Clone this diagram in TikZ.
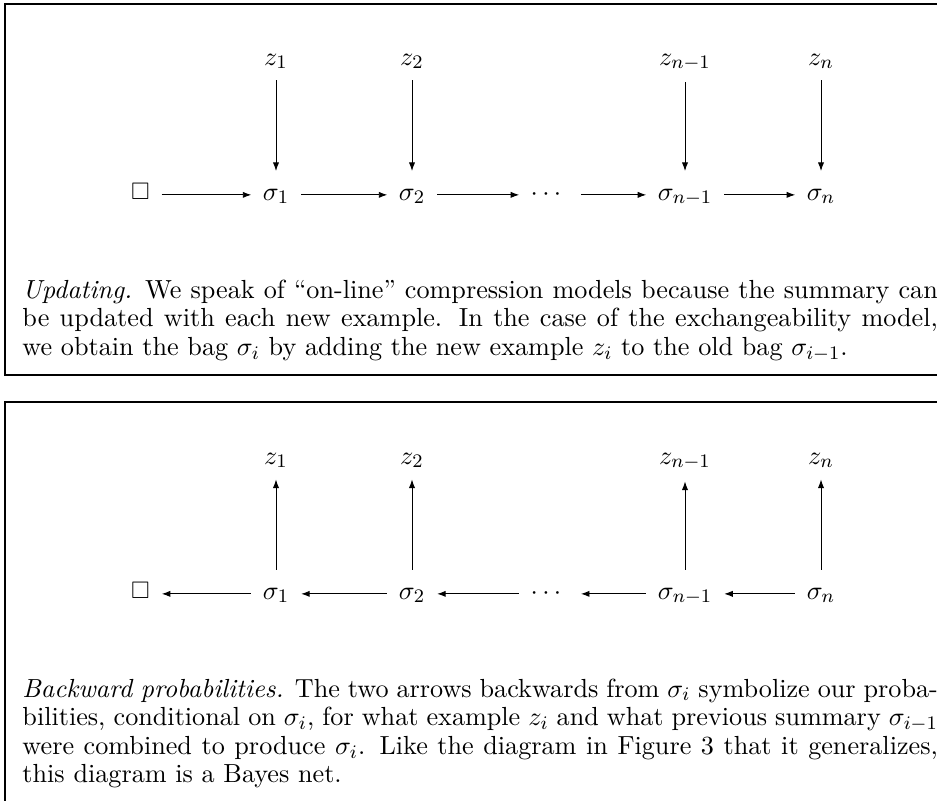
\documentclass[tikz,border=0pt]{standalone}
\usepackage{amssymb}
\usetikzlibrary{arrows.meta}
\newcommand{\captionfont}{\fontsize{10.95pt}{11.95pt}\selectfont}
\begin{document}
\begin{tikzpicture}[x=0.4184pt,y=-0.4184pt,
  lbl/.style={inner sep=0pt, anchor=base, font=\captionfont},
  sq/.style={inner sep=0pt, anchor=base},
  mytip/.tip={Latex[length=3.6pt,width=2.6pt]},
  fwd/.style={-mytip, shorten <=4.8pt, shorten >=4.6pt},
  bwd/.style={mytip-, shorten <=4.8pt, shorten >=4.6pt},
  vfwd/.style={-mytip, shorten <=4.6pt, shorten >=7.2pt},
  vbwd/.style={mytip-, shorten <=4.6pt, shorten >=7.2pt},
  frame/.style={line width=0.6pt},
  captext/.style={inner sep=0pt, anchor=base west}]
\useasboundingbox (0,0) rectangle (937,800);

% frames
\draw[frame] (960,4) -- (5,4) -- (5,375) -- (960,375);
\draw[frame] (960,402) -- (5,402) -- (5,820);

% ---------- top diagram ----------
\node[sq] (b1) at (140.5,199) {$\square$};
\node[lbl] (s11) at (276,200) {$\sigma_1$};
\node[lbl] (s12) at (412,200) {$\sigma_2$};
\node[lbl] (d1) at (546,200) {$\cdots$};
\node[lbl] (s1m) at (685,200) {$\sigma_{n-1}$};
\node[lbl] (s1n) at (821,200) {$\sigma_n$};
\node[lbl] (z11) at (276,65) {$z_1$};
\node[lbl] (z12) at (412,65) {$z_2$};
\node[lbl] (z1m) at (685,65) {$z_{n-1}$};
\node[lbl] (z1n) at (821,65) {$z_n$};

\draw[fwd] (b1.east |- s11.mid west) -- (s11.mid west);
\draw[fwd] (s11.mid east) -- (s12.mid west);
\draw[fwd] (s12.mid east) -- (d1.mid west);
\draw[fwd, shorten <=8pt] (d1.mid east) -- (s1m.mid west);
\draw[fwd] (s1m.mid east) -- (s1n.mid west);
\draw[vfwd] (z11.south) -- (s11.north);
\draw[vfwd] (z12.south) -- (s12.north);
\draw[vfwd] (z1m.south) -- (s1m.north);
\draw[vfwd] (z1n.south) -- (s1n.north);

\node[captext] (c1) at (22,298) {\parbox[t]{383pt}{\captionfont\emph{Updating.} We speak of ``on-line'' compression models because the summary can\linebreak
be updated with each new example. In the case of the exchangeability model,\linebreak
we obtain the bag $\sigma_i$ by adding the new example $z_i$ to the old bag $\sigma_{i-1}$.}};

% ---------- bottom diagram ----------
\node[sq] (b2) at (140.5,598) {$\square$};
\node[lbl] (s21) at (276,599) {$\sigma_1$};
\node[lbl] (s22) at (412,599) {$\sigma_2$};
\node[lbl] (d2) at (546,599) {$\cdots$};
\node[lbl] (s2m) at (685,599) {$\sigma_{n-1}$};
\node[lbl] (s2n) at (821,599) {$\sigma_n$};
\node[lbl] (z21) at (276,464) {$z_1$};
\node[lbl] (z22) at (412,464) {$z_2$};
\node[lbl] (z2m) at (685,464) {$z_{n-1}$};
\node[lbl] (z2n) at (821,464) {$z_n$};

\draw[bwd] (b2.east |- s21.mid west) -- (s21.mid west);
\draw[bwd] (s21.mid east) -- (s22.mid west);
\draw[bwd] (s22.mid east) -- (d2.mid west);
\draw[bwd, shorten <=8pt] (d2.mid east) -- (s2m.mid west);
\draw[bwd] (s2m.mid east) -- (s2n.mid west);
\draw[vbwd] (z21.south) -- (s21.north);
\draw[vbwd] (z22.south) -- (s22.north);
\draw[vbwd] (z2m.south) -- (s2m.north);
\draw[vbwd] (z2n.south) -- (s2n.north);

\node[captext] (c2) at (22,697) {\parbox[t]{383pt}{\captionfont\emph{Backward probabilities.} The two arrows backwards from $\sigma_i$ symbolize our proba-\linebreak
bilities, conditional on $\sigma_i$, for what example $z_i$ and what previous summary $\sigma_{i-1}$\linebreak
were combined to produce $\sigma_i$. Like the diagram in Figure 3 that it generalizes,\linebreak
this diagram is a Bayes net.}};
\end{tikzpicture}
\end{document}
